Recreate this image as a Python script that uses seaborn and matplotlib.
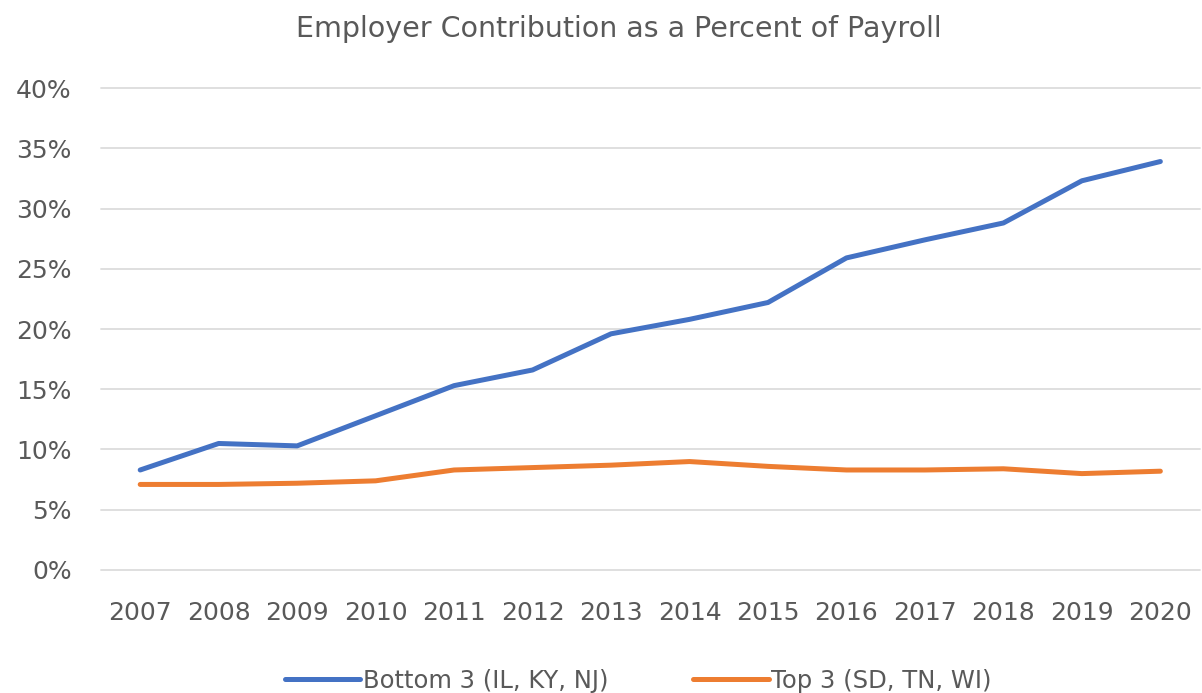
import matplotlib
matplotlib.use("Agg")
import matplotlib.pyplot as plt
import seaborn as sns
import pandas as pd
from matplotlib.ticker import FuncFormatter, MultipleLocator

years = [2007, 2008, 2009, 2010, 2011, 2012, 2013, 2014, 2015, 2016, 2017, 2018, 2019, 2020]
bottom3 = [8.3, 10.5, 10.3, 12.8, 15.3, 16.6, 19.6, 20.8, 22.2, 25.9, 27.4, 28.8, 32.3, 33.9]
top3 = [7.1, 7.1, 7.2, 7.4, 8.3, 8.5, 8.7, 9.0, 8.6, 8.3, 8.3, 8.4, 8.0, 8.2]
series_names = ["Bottom 3 (IL, KY, NJ)", "Top 3 (SD, TN, WI)"]
title = "Employer Contribution as a Percent of Payroll"

sns.set_theme(style="white")
plt.rcParams["font.family"] = ["DejaVu Sans"]

idx = list(range(len(years)))
df = pd.DataFrame({
    "x": idx * 2,
    "value": bottom3 + top3,
    "series": [series_names[0]] * len(years) + [series_names[1]] * len(years),
})

fig = plt.figure(figsize=(12.02, 6.93), dpi=100)
ax = fig.add_axes([0.084, 0.1775, 0.914, 0.6955])
sns.lineplot(data=df, x="x", y="value", hue="series",
             palette=["#4472C4", "#ED7D31"], linewidth=3.6, ax=ax,
             legend=True, solid_capstyle="round")

ax.set_xlim(-0.5, len(years) - 0.5)
ax.set_ylim(0, 40)
ax.yaxis.set_major_locator(MultipleLocator(5))
ax.yaxis.set_major_formatter(FuncFormatter(lambda v, p: f"{int(v)}%"))
ax.set_xticks(idx)
ax.set_xticklabels([str(y) for y in years])
ax.grid(axis="y", color="#DCDCDC", linewidth=1.3)
for gl in ax.get_ygridlines():
    gl.set_clip_on(False)
ax.set_axisbelow(True)
for s in ax.spines.values():
    s.set_visible(False)
ax.tick_params(axis="both", length=0, labelsize=18, labelcolor="#595959")
ax.tick_params(axis="y", pad=21)
ax.tick_params(axis="x", pad=22)
ax.set_xlabel("")
ax.set_ylabel("")

fig.text(0.515, 0.958, title, ha="center", va="center", fontsize=20.5, color="#595959")

handles, labels = ax.get_legend_handles_labels()
ax.legend_.remove()
fig.legend(handles, labels, loc="center", bbox_to_anchor=(0.531, 0.018), ncol=2,
           frameon=False, fontsize=17.5, labelcolor="#595959", handlelength=3.1,
           handletextpad=0.1, columnspacing=3.5)

fig.savefig("out.png", dpi=100)
